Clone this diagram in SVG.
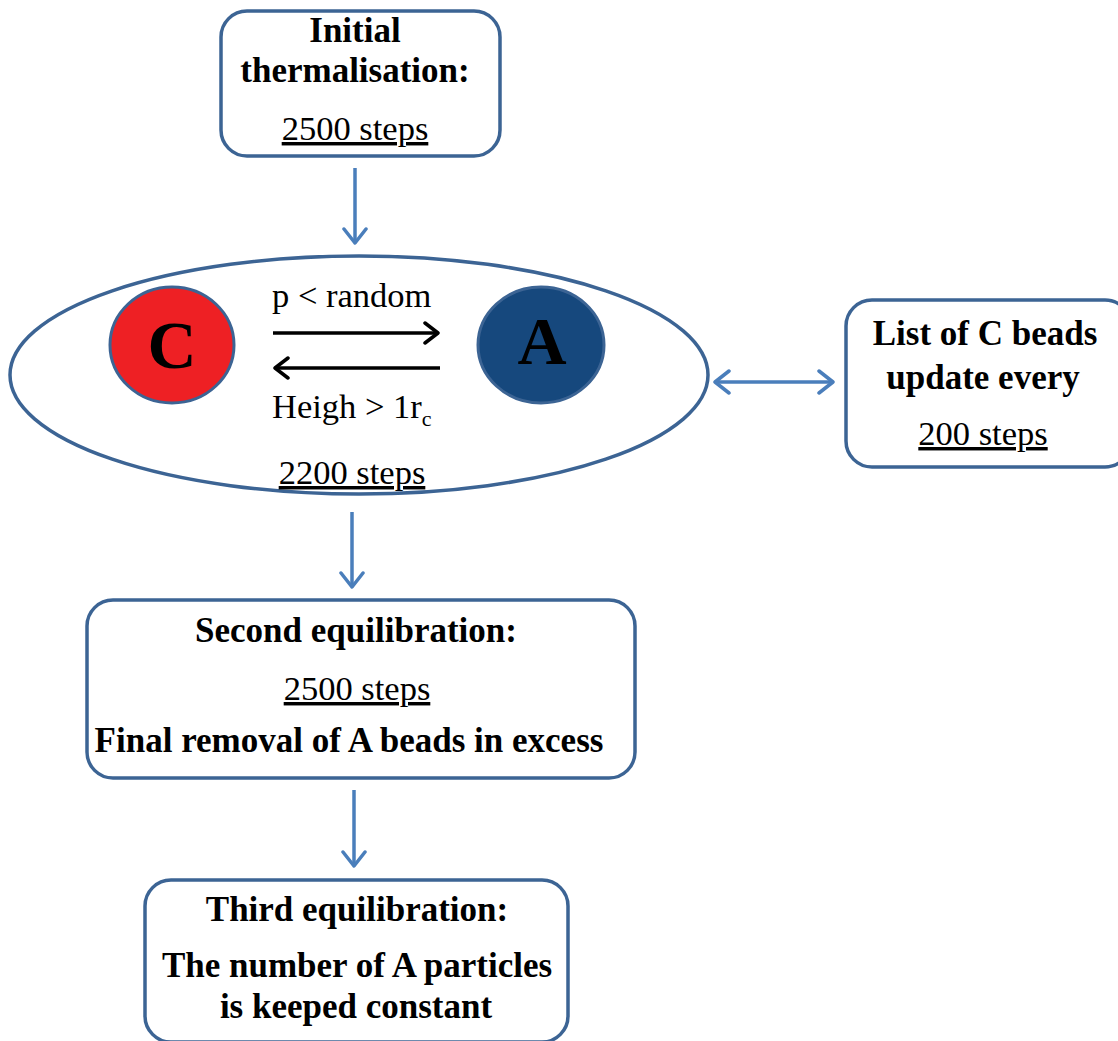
<svg xmlns="http://www.w3.org/2000/svg" width="1118" height="1041" viewBox="0 0 1118 1041">
<style>
.box{fill:#fff;stroke:#3c6494;stroke-width:3.5}
.b{font-family:"Liberation Serif","Times New Roman",serif;font-weight:bold;font-size:35px;fill:#000;text-anchor:middle}
.r{font-family:"Liberation Serif","Times New Roman",serif;font-size:34.5px;fill:#000;text-anchor:middle}
.u{text-decoration:underline}
.big{font-size:68px}
.st{text-anchor:start}
.conn{stroke:#4a7ebb;stroke-width:3.5;fill:none}
.blk{stroke:#000;stroke-width:3.5;fill:none}
</style>
<defs>
<marker id="ah" markerUnits="userSpaceOnUse" viewBox="0 0 20 26" refX="17" refY="13" markerWidth="20" markerHeight="26" orient="auto-start-reverse">
<path d="M3,2 L17,13 L3,24" fill="none" stroke="#4a7ebb" stroke-width="3.5" stroke-linecap="round" stroke-linejoin="round"/>
</marker>
<marker id="ak" markerUnits="userSpaceOnUse" viewBox="0 0 20 24" refX="17" refY="12" markerWidth="20" markerHeight="24" orient="auto-start-reverse">
<path d="M4,2 L17,12 L4,22" fill="none" stroke="#000" stroke-width="3.5" stroke-linecap="round" stroke-linejoin="round"/>
</marker>
</defs>

<g id="init">
<rect class="box" x="221" y="11" width="279" height="145" rx="26"/>
<text class="b" x="355" y="42">Initial</text>
<text class="b" x="355" y="82">thermalisation:</text>
<text class="r u" x="355" y="140">2500 steps</text>
</g>

<g id="cycle">
<ellipse class="box" cx="359" cy="375" rx="349" ry="119"/>
<ellipse cx="172" cy="345" rx="62" ry="58" fill="#ee2024" stroke="#3c6494" stroke-width="3"/>
<text class="b big" x="172" y="368">C</text>
<ellipse cx="541" cy="345" rx="63" ry="58" fill="#16487d" stroke="#3c6494" stroke-width="3"/>
<text class="b big" x="542" y="364">A</text>
<line class="blk" x1="273" y1="333" x2="438" y2="333" marker-end="url(#ak)"/>
<line class="blk" x1="440" y1="368" x2="275" y2="368" marker-end="url(#ak)"/>
<text class="r st" x="272" y="307">p &lt; random</text>
<text class="r st" x="272" y="418">Heigh &gt; 1r<tspan style="font-size:22px" dy="8">c</tspan></text>
<text class="r u" x="352" y="484">2200 steps</text>
</g>

<g id="list">
<rect class="box" x="846" y="300" width="285" height="167" rx="26"/>
<text class="b" x="985" y="345">List of C beads</text>
<text class="b" x="983" y="389">update every</text>
<text class="r u" x="983" y="445">200 steps</text>
</g>

<g id="second">
<rect class="box" x="87" y="600" width="548" height="178" rx="26"/>
<text class="b" x="356" y="642">Second equilibration:</text>
<text class="r u" x="357" y="700">2500 steps</text>
<text class="b" x="349" y="752">Final removal of A beads in excess</text>
</g>

<g id="third">
<rect class="box" x="145" y="880" width="423" height="162" rx="26"/>
<text class="b" x="357" y="921">Third equilibration:</text>
<text class="b" x="357" y="977">The number of A particles</text>
<text class="b" x="356" y="1018">is keeped constant</text>
</g>

<g id="connectors">
<line class="conn" x1="355" y1="168" x2="355" y2="243" marker-end="url(#ah)"/>
<line class="conn" x1="352" y1="512" x2="352" y2="587" marker-end="url(#ah)"/>
<line class="conn" x1="354" y1="790" x2="354" y2="866" marker-end="url(#ah)"/>
<line class="conn" x1="715" y1="382" x2="833" y2="382" marker-start="url(#ah)" marker-end="url(#ah)"/>
</g>
</svg>
